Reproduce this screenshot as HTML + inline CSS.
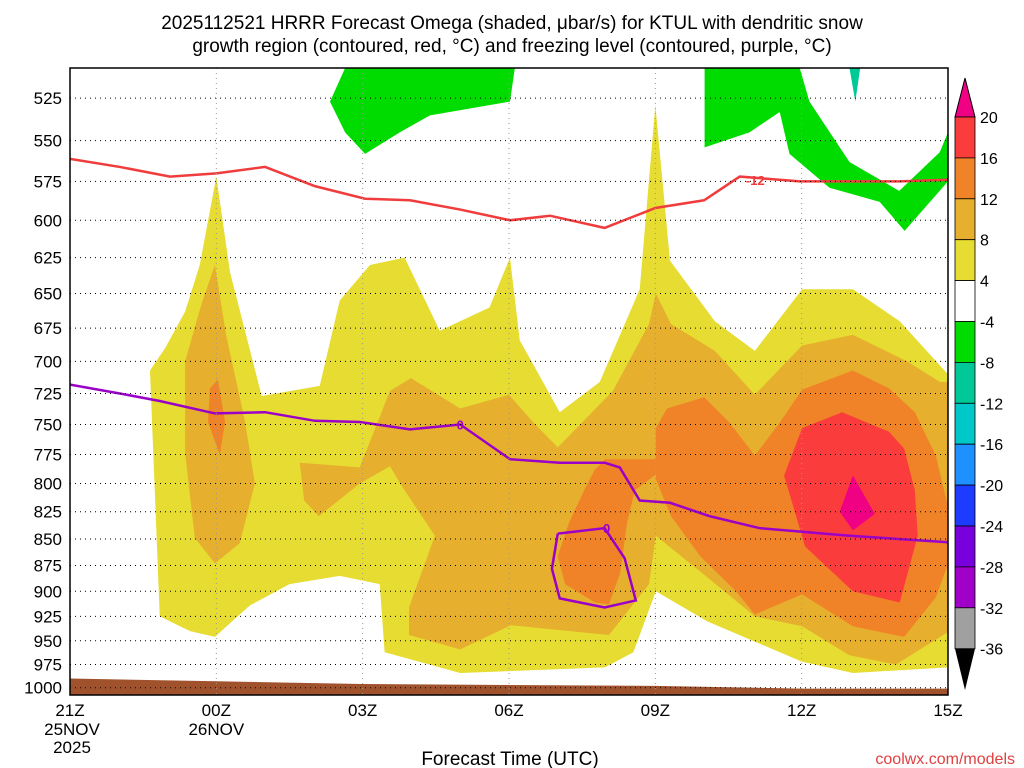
<!DOCTYPE html>
<html><head><meta charset="utf-8"><style>
html,body{margin:0;padding:0;background:#fff;}
svg{display:block;font-family:"Liberation Sans",sans-serif;}
</style></head><body>
<svg id="c" width="1024" height="768" xmlns="http://www.w3.org/2000/svg">
<text x="512" y="29" font-size="19" text-anchor="middle" fill="#000">2025112521 HRRR Forecast Omega (shaded, μbar/s) for KTUL with dendritic snow</text>
<text x="512" y="52" font-size="19" text-anchor="middle" fill="#000">growth region (contoured, red, °C) and freezing level (contoured, purple, °C)</text>
<text x="510" y="765" font-size="19" text-anchor="middle">Forecast Time (UTC)</text>
<text x="1015" y="764" font-size="16" text-anchor="end" fill="#e04040">coolwx.com/models</text>
<g id="plot"></g>
<g id="cbar"></g>
</svg>
<script>
// ---- data ----
const xTickLabels=["21Z","00Z","03Z","06Z","09Z","12Z","15Z"];
const xTickHours=[0,3,6,9,12,15,18];
const xDateLabels=[["25NOV","2025"],["26NOV"],[],[],[],[],[]];
const pressureTicks=[525,550,575,600,625,650,675,700,725,750,775,800,825,850,875,900,925,950,975,1000];
const yellowRegion=[[1.84,925],[1.64,707],[1.95,690],[2.36,663],[2.66,630],[3,572],[3.28,635],[3.93,727],[5.12,719],[5.53,655],[6.15,630],[6.86,625],[7.58,677],[8.6,660],[9.02,625],[9.22,684],[10.04,740],[10.86,716],[11.68,647],[12,529],[12.3,627],[13.22,670],[14.04,692],[15.01,647],[16.05,647],[17.01,670],[18,710],[18,978],[16.05,984],[15.01,972],[13.06,930],[12.01,900],[11.55,962],[10.97,978],[8,984],[6.45,962],[6.35,893],[5.53,885],[4.5,893],[3.69,914],[3.28,932],[2.97,946],[2.46,940]];
const goldLeft=[[2.36,700],[2.7,657],[2.97,630],[3.2,680],[3.59,748],[3.79,800],[3.48,854],[2.97,873],[2.56,849],[2.36,774]];
const goldMain=[[4.71,782],[5.94,786],[6.56,723],[6.99,713],[8,737],[9,726],[9.49,748],[10,769],[11.13,723],[11.87,672],[12.01,650],[12.32,672],[13.22,692],[14.04,726],[15.01,688],[16.05,680],[17.16,700],[17.84,716],[18,716],[18,941],[16.93,975],[15.97,965],[15.01,935],[14.04,925],[13.06,886],[12.01,847],[11.87,893],[11.05,944],[9.04,934],[8,959],[6.95,944],[6.95,916],[7.48,847],[6.8,802],[6.56,785],[5.94,800],[5.1,829],[4.8,815]];
const orangeMid=[[10.97,779],[12.01,779],[12.01,792],[11.58,806],[11.42,835],[11.28,882],[11.05,913],[10.76,911],[10.15,893],[10,866],[10.23,835],[10.54,806],[10.76,788]];
const orangeMain=[[12.01,753],[12.24,737],[13,728],[13.51,748],[14.04,776],[14.56,748],[15.01,722],[16.05,707],[16.79,721],[17.32,740],[17.75,776],[17.98,817],[17.98,876],[17.75,906],[17.1,946],[16.05,935],[15.01,903],[14.04,923],[13.65,900],[12.92,866],[12.32,829],[12.01,796]];
const orangeLeft=[[2.87,721],[3.03,714],[3.18,748],[3.07,775],[2.83,748]];
const redRegion=[[15.01,753],[15.83,740],[16.79,756],[17.1,770],[17.32,806],[17.38,847],[17.01,911],[16.05,900],[15.07,857],[14.64,793]];
const pinkRegion=[[16.05,793],[16.5,827],[16.05,842],[15.78,825]];
const greenTop=[[5.33,527],[5.64,508],[9.12,508],[9.02,527],[8.2,531],[7.38,535],[6.76,545],[6.05,558],[5.64,545]];
const greenRight=[[13.01,508],[14.96,508],[15.16,527],[15.98,563],[17,581],[17.83,557],[18,545],[18,575],[17.11,607],[16.6,588],[15.57,579],[14.75,558],[14.55,533],[13.93,545],[13.01,554]];
const tealSpot=[[15.98,508],[16.2,508],[16.1,527]];
const groundHours=[0,3,6,9,12,15,18];
const groundPres=[990,993,996,997,998,1001,1001];
const dgzHours=[0,1.02,2.05,3,4,5.02,6.05,6.97,8,9.02,9.84,10.96,12,13,13.73,14.96,17,18];
const dgzPres=[561,566,572,570,566,578,586,587,593,600,597,605,592,587,572,575,575,574];
const frzHours=[0,1.02,1.84,2.97,4,5.02,5.94,6.97,8,9.02,10.04,10.96,11.27,11.68,12.3,13.11,14.14,15.98,18];
const frzPres=[718,725,731,741,740,747,748,754,750,779,782,782,786,815,817,829,840,847,853];
const loopHours=[10,10.96,11.37,11.6,10.96,10.04,9.88,10];
const loopPres=[845,840,868,909,916,907,878,845];
const cbarLevels=[20,16,12,8,4,-4,-8,-12,-16,-20,-24,-28,-32,-36];
const cbarColors=["#fa3c3c","#f08228","#e6af2d","#e6dc32","#ffffff","#00dc00","#00c896","#00c8c8","#1e90ff","#1e3cff","#7800dc","#a000c8","#a0a0a0"];
// ---- scales ----
const X0=70,X1=948,Y0=68,Y1=695,PT=508,PB=1008;
const xs=h=>X0+h/18*(X1-X0);
const ys=p=>Y0+Math.log(p/PT)/Math.log(PB/PT)*(Y1-Y0);
const NS="http://www.w3.org/2000/svg";
const plot=document.getElementById('plot');
function mk(tag,attrs,parent){const e=document.createElementNS(NS,tag);for(const k in attrs)e.setAttribute(k,attrs[k]);(parent||plot).appendChild(e);return e;}
const defs=mk('defs',{});
const cp=mk('clipPath',{id:'clip'},defs);mk('rect',{x:X0,y:Y0,width:X1-X0,height:Y1-Y0},cp);
const g=mk('g',{'clip-path':'url(#clip)'});
function poly(pts,fill,name){const e=mk('polygon',{points:pts.map(q=>xs(q[0])+','+ys(q[1])).join(' '),fill:fill},g);

}
poly(yellowRegion,"#e6dc32","omega-4-region");
poly(goldLeft,"#e6af2d","omega-8-region-left");
poly(goldMain,"#e6af2d","omega-8-region");
poly(orangeLeft,"#f08228","omega-12-region-left");
poly(orangeMid,"#f08228","omega-12-region-mid");
poly(orangeMain,"#f08228","omega-12-region");
poly(redRegion,"#fa3c3c","omega-16-region");
poly(pinkRegion,"#f00082","omega-20-region");
poly(greenTop,"#00dc00","omega-neg4-region-top");
poly(greenRight,"#00dc00","omega-neg4-region-right");
poly(tealSpot,"#00c896","omega-neg8-spot");
// ground
{let pts=groundHours.map((h,i)=>xs(h)+','+ys(groundPres[i]));pts.push(xs(18)+','+Y1,xs(0)+','+Y1);
const e=mk('polygon',{points:pts.join(' '),fill:'#a0522d'},g);

}
// grid
pressureTicks.forEach(p=>{const l=mk('line',{x1:X0,x2:X1,y1:ys(p),y2:ys(p),stroke:'#000','stroke-width':1,'stroke-dasharray':'1,4'});


const t=mk('text',{x:62,y:ys(p)+6,'font-size':17,'text-anchor':'end'});t.textContent=p;

});
xTickHours.forEach((h,i)=>{if(i>0&&i<6){const l=mk('line',{x1:xs(h),x2:xs(h),y1:Y0,y2:Y1,stroke:'#999','stroke-width':1,'stroke-dasharray':'1,4'});

}
const t=mk('text',{x:xs(h),y:716,'font-size':17,'text-anchor':'middle'});t.textContent=xTickLabels[i];


xDateLabels[i].forEach((s,j)=>{const d=mk('text',{x:xs(h)+(i==0?2:0),y:735+j*18,'font-size':17,'text-anchor':'middle'});d.textContent=s;

});});
function line(hs,ps,color,name){const e=mk('polyline',{points:hs.map((h,i)=>xs(h)+','+ys(ps[i])).join(' '),fill:'none',stroke:color,'stroke-width':2.5},g);

}
line(dgzHours,dgzPres,'#f03c3c','dgz-minus12-contour');
line(frzHours,frzPres,'#9b00c8','freezing-level-contour');
line(loopHours,loopPres,'#9b00c8','freezing-level-loop');
function lab(x,y,s,c,name){const t=mk('text',{x:x,y:y+5,'font-size':13,'font-weight':'bold','text-anchor':'middle',fill:c});t.textContent=s;

}
lab(xs(14.05),ys(574),'-12','#f03c3c','dgz-contour-label');
lab(xs(8),ys(750),'0','#9b00c8','freezing-contour-label');
lab(xs(11),ys(840),'0','#9b00c8','freezing-loop-label');
{const b=mk('rect',{x:X0,y:Y0,width:X1-X0,height:Y1-Y0,fill:'none',stroke:'#000','stroke-width':1.5});

}
// colorbar
const cb=document.getElementById('cbar');
const CX=955,CW=20;
function cmk(tag,a){return mk(tag,a,cb);}
{const t=cmk('polygon',{points:`${CX},117 ${CX+CW},117 ${CX+CW/2},78`,fill:'#f00082',stroke:'#000'});

}
for(let i=0;i<cbarColors.length;i++){const y1=117+i*40.9;
const r=cmk('rect',{x:CX,y:y1,width:CW,height:40.9,fill:cbarColors[i],stroke:'#000','stroke-width':0.8});

}
{const yb=117+cbarColors.length*40.9;const t=cmk('polygon',{points:`${CX},${yb} ${CX+CW},${yb} ${CX+CW/2},690`,fill:'#000'});

}
cbarLevels.forEach((v,i)=>{const t=cmk('text',{x:980,y:117+i*40.9+6,'font-size':16});t.textContent=v;

});
</script>
</body></html>
